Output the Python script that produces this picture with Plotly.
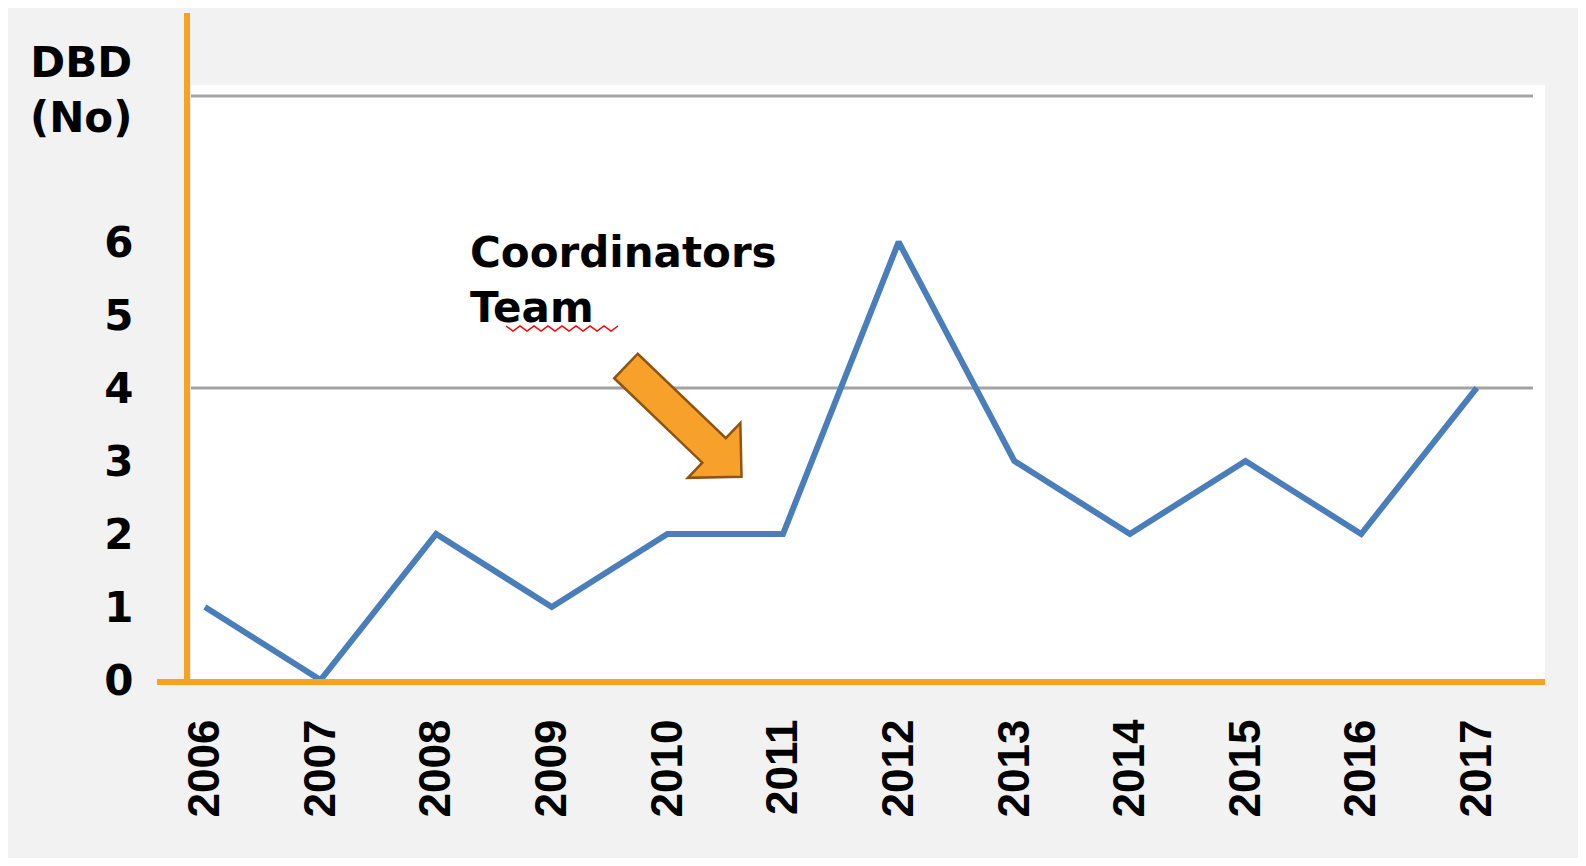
import math
import plotly.graph_objects as go

# ---- data ----
years = [2006, 2007, 2008, 2009, 2010, 2011, 2012, 2013, 2014, 2015, 2016, 2017]
dbd_counts = [1, 0, 2, 1, 2, 2, 6, 3, 2, 3, 2, 4]
year_labels = [str(y) for y in years]
y_ticks = [0, 1, 2, 3, 4, 5, 6]
grid_levels = [4, 8]
y_title_text = "DBD<br>(No)"
note_text = "Coordinators<br>Team"

# ---- layout geometry (page pixels; the page body has an 8px margin) ----
OFF = 8
FW, FH = 1570, 850
PL, PR, PT, PB = 191, 1545, 85, 680        # plot area in page pixels
L, R, T, B = PL - OFF, PR - OFF, PT - OFF, PB - OFF
W, H = R - L, B - T


def px(x):
    return (x - OFF - L) / W


def py(y):
    return (B - (y - OFF)) / H


ORANGE = "#F9A125"
BLUE = "#4A7EBB"

fig = go.Figure()
fig.add_trace(go.Scatter(
    x=years, y=dbd_counts, mode="lines",
    line=dict(color=BLUE, width=6),
    hoverinfo="x+y", showlegend=False,
))

shapes = []
for g in grid_levels:
    shapes.append(dict(type="line", xref="paper", yref="y", x0=0, x1=px(1533), y0=g, y1=g,
                       line=dict(color="#A3A3A3", width=3), layer="below"))
# orange axes
shapes.append(dict(type="line", xref="paper", yref="paper", x0=px(187), x1=px(187),
                   y0=py(683), y1=py(13), line=dict(color=ORANGE, width=6)))
shapes.append(dict(type="line", xref="paper", yref="paper", x0=px(157), x1=px(1545),
                   y0=py(682), y1=py(682), line=dict(color=ORANGE, width=6)))

# block arrow
Tx, Ty = 626, 366
dx, dy = 0.72, 0.69
nrm = math.hypot(dx, dy)
dx, dy = dx / nrm, dy / nrm
nx, ny = -dy, dx
Ls, hw, hh, hl = 122, 17, 38, 38
pts = [
    (Tx + nx * hw, Ty + ny * hw),
    (Tx + dx * Ls + nx * hw, Ty + dy * Ls + ny * hw),
    (Tx + dx * Ls + nx * hh, Ty + dy * Ls + ny * hh),
    (Tx + dx * (Ls + hl), Ty + dy * (Ls + hl)),
    (Tx + dx * Ls - nx * hh, Ty + dy * Ls - ny * hh),
    (Tx + dx * Ls - nx * hw, Ty + dy * Ls - ny * hw),
    (Tx - nx * hw, Ty - ny * hw),
]
path = "M " + " L ".join(f"{px(a):.5f},{py(b):.5f}" for a, b in pts) + " Z"
shapes.append(dict(type="path", xref="paper", yref="paper", path=path,
                   fillcolor="#F7A12A", line=dict(color="#8E5410", width=2.5)))

# spell-check squiggle under "Team"
zz = []
xx = 506
k = 0
while xx <= 622:
    zz.append((xx, 326 if k % 2 == 0 else 331))
    xx += 7
    k += 1
zpath = "M " + " L ".join(f"{px(a):.5f},{py(b):.5f}" for a, b in zz)
shapes.append(dict(type="path", xref="paper", yref="paper", path=zpath,
                   line=dict(color="#FF0000", width=1.5)))

annotations = [
    dict(text=y_title_text, xref="paper", yref="paper", x=px(81), y=py(36),
         xanchor="center", yanchor="top", align="center", showarrow=False,
         font=dict(family="DejaVu Sans", size=42, color="black", weight="bold")),
    dict(text=note_text, xref="paper", yref="paper", x=px(468), y=py(226),
         xanchor="left", yanchor="top", align="left", showarrow=False,
         font=dict(family="DejaVu Sans", size=42, color="black", weight="bold")),
]

fig.update_layout(
    width=FW, height=FH,
    margin=dict(l=L, r=FW - R, t=T, b=FH - B, pad=0),
    paper_bgcolor="#F2F2F2", plot_bgcolor="white",
    shapes=shapes, annotations=annotations,
    xaxis=dict(range=[2005.88, 2017.59], tickvals=years, ticktext=year_labels,
               tickangle=-90, showgrid=False, zeroline=False, showline=False,
               ticks="outside", ticklen=21, tickcolor="rgba(0,0,0,0)",
               tickfont=dict(family="Liberation Sans", size=44, color="black", weight="bold")),
    yaxis=dict(range=[0, 8.15], tickvals=y_ticks, ticktext=[str(v) for v in y_ticks],
               showgrid=False, zeroline=False, showline=False,
               ticks="outside", ticklen=48, tickcolor="rgba(0,0,0,0)",
               tickfont=dict(family="DejaVu Sans", size=42, color="black", weight="bold")),
)

fig.write_html("out.html")
